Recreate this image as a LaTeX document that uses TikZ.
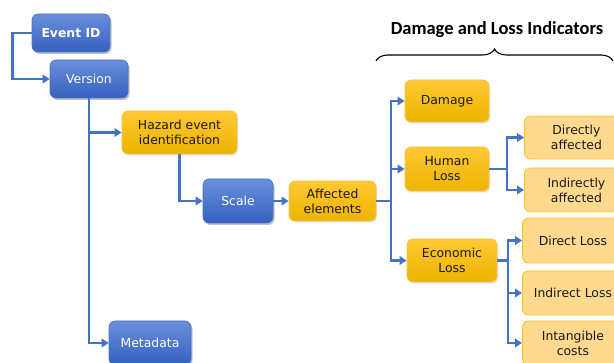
\documentclass[tikz,border=0pt]{standalone}
\usepackage{fontspec}
\setmainfont{DejaVu Sans}
\newfontfamily\titlefont{Carlito}
\usetikzlibrary{arrows.meta,positioning,shadows,decorations.pathreplacing}
\definecolor{idxBlueTop}{HTML}{6A8FDA}
\definecolor{idxBlueBot}{HTML}{3560C0}
\definecolor{idxBlueLine}{HTML}{4A72C8}
\definecolor{idxGoldTop}{HTML}{FFC933}
\definecolor{idxGoldBot}{HTML}{EDB300}
\definecolor{idxGoldLine}{HTML}{F6C650}
\definecolor{idxLightFill}{HTML}{FFD98E}
\definecolor{idxLightLine}{HTML}{FFC21A}
\definecolor{idxLink}{HTML}{4472C4}

\begin{document}
\begin{tikzpicture}[x=1pt,y=-1pt,
  font=\fontsize{12.4}{15}\selectfont,
  blockblue/.style={draw=idxBlueLine,line width=0.6pt,rounded corners=6pt,top color=idxBlueTop,bottom color=idxBlueBot,text=white,align=center,inner sep=0pt,
    drop shadow={shadow xshift=1.5pt,shadow yshift=-2pt,opacity=0.35,fill=black!70}},
  blockgold/.style={draw=idxGoldLine,line width=0.8pt,rounded corners=6pt,top color=idxGoldTop,bottom color=idxGoldBot,text=black!90,align=center,inner sep=0pt,
    drop shadow={shadow xshift=1pt,shadow yshift=-1.5pt,opacity=0.2,fill=black!60}},
  leaf/.style={draw=idxLightLine,line width=0.8pt,rounded corners=6pt,fill=idxLightFill,text=black!90,align=center,inner sep=0pt,anchor=west},
  arrow/.style={-{Triangle[length=7pt,width=8.5pt]},draw=idxLink,line width=2.9pt},
  link/.style={draw=idxLink,line width=2.9pt}
]
\clip (0,0) rectangle (614,363);

\node[blockblue,minimum width=78pt,minimum height=38pt,font=\fontsize{12.4}{15}\selectfont\bfseries] (eventid) at (71,33) {Event ID};
\node[blockblue,minimum width=78pt,minimum height=38pt] (version) at (89,79) {Version};
\node[blockgold,minimum width=115pt,minimum height=43pt] (hazard) at (179.5,132.5) {Hazard event\\identification};
\node[blockblue,minimum width=70pt,minimum height=44pt] (scale) at (238,201) {Scale};
\node[blockgold,minimum width=87pt,minimum height=40pt] (affected) at (332.5,201) {Affected\\elements};
\node[blockblue,minimum width=82pt,minimum height=44pt] (metadata) at (150,343) {Metadata};

\node[font=\fontsize{18.5}{21}\selectfont\bfseries\titlefont] (title) at (497,30) {Damage and Loss Indicators};
\draw[decorate,decoration={brace,amplitude=12pt},line width=1.1pt] (376,61) -- (613,61);

\node[blockgold,minimum width=84pt,minimum height=42pt] (damage) at (447,101) {Damage};
\node[blockgold,minimum width=84pt,minimum height=44pt] (human) at (447,169) {Human\\Loss};
\node[blockgold,minimum width=90pt,minimum height=43pt] (economic) at (452,260.5) {Economic\\Loss};

\node[leaf,minimum width=104pt,minimum height=43pt] (directly) at (524,137.5) {Directly\\affected};
\node[leaf,minimum width=104pt,minimum height=44pt] (indirectly) at (524,190) {Indirectly\\affected};
\node[leaf,minimum width=101pt,minimum height=45pt] (directloss) at (522,240.5) {Direct Loss};
\node[leaf,minimum width=101pt,minimum height=44pt] (indirectloss) at (522,293) {Indirect Loss};
\node[leaf,minimum width=101pt,minimum height=44pt] (intangible) at (522,343) {Intangible\\costs};

\coordinate (hubaffected) at (391,201);
\coordinate (hubhuman) at (507,169);
\coordinate (hubeconomic) at (508,260.5);

\draw[arrow] (eventid.west) -- ++(-19,0) |- (version.west);
\draw[arrow] (version.south) |- (metadata.west);
\draw[arrow] (version.south) |- (hazard.west);
\draw[arrow] (hazard.south) |- (scale.west);
\draw[arrow] (scale.east) -- (affected.west);
\draw[link] (affected.east) -- (hubaffected);
\draw[arrow] (hubaffected) |- (damage.west);
\draw[arrow] (hubaffected) |- (human.west);
\draw[arrow] (hubaffected) |- (economic.west);
\draw[link] (human.east) -- (hubhuman);
\draw[arrow] (hubhuman) |- (directly.west);
\draw[arrow] (hubhuman) |- (indirectly.west);
\draw[link] (economic.east) -- (hubeconomic);
\draw[arrow] (hubeconomic) |- (directloss.west);
\draw[arrow] (hubeconomic) |- (indirectloss.west);
\draw[arrow] (hubeconomic) |- (intangible.west);
\end{tikzpicture}
\end{document}
